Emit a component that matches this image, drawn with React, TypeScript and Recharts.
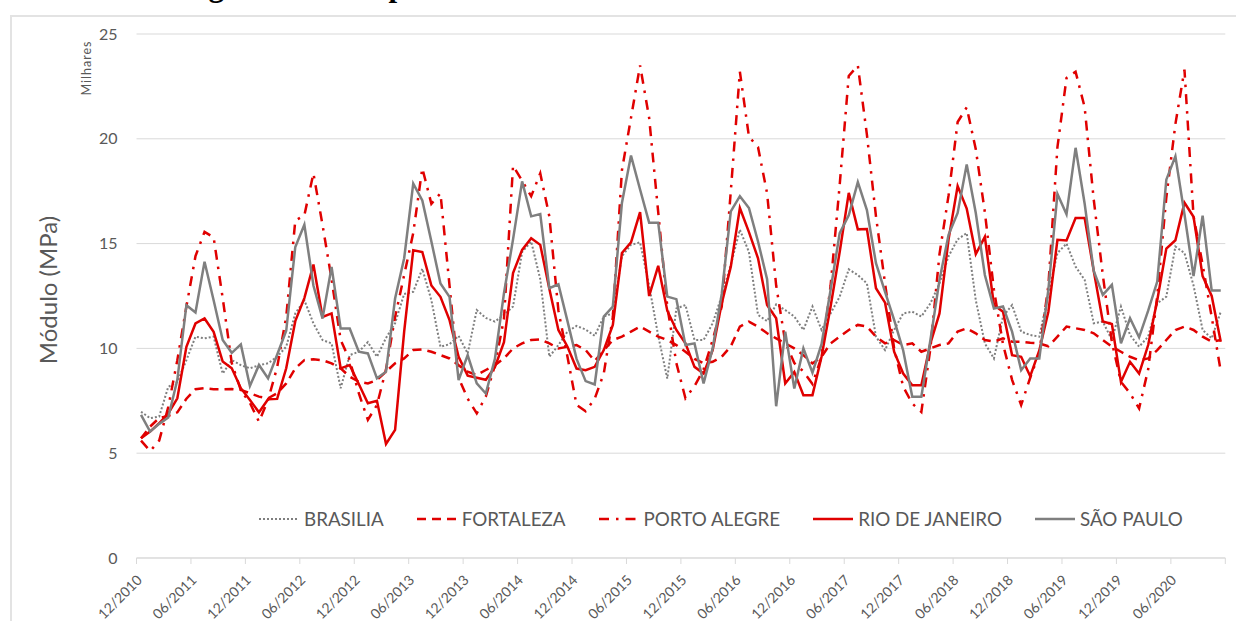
import React from 'react';
import { LineChart, Line, XAxis, YAxis, CartesianGrid, Legend, Label } from 'recharts';

// Monthly categories 12/2010 .. 11/2020
const CATEGORIES: string[] = (() => {
  const out: string[] = [];
  let m = 12;
  let y = 2010;
  for (let k = 0; k < 120; k++) {
    out.push(`${String(m).padStart(2, '0')}/${y}`);
    m++;
    if (m > 12) { m = 1; y++; }
  }
  return out;
})();

const TICK_LABELS: string[] = CATEGORIES.filter((_, k) => k % 6 === 0);
const TICK_POS: number[] = Array.from({ length: 21 }, (_, k) => k * 6 - 0.5);
const Y_TICKS = [0, 5, 10, 15, 20, 25];

const BRASILIA = [
  6.98, 6.67, 6.75, 8.17, 8.4, 9.44, 10.56, 10.48, 10.56, 8.8,
  9.44, 9.2, 9.05, 9.2, 9.29, 9.6, 10.08, 11.67, 12.3, 11.19,
  10.4, 10.24, 8.1, 9.68, 9.84, 10.3, 9.6, 10.5, 11.2, 12.6,
  12.7, 13.8, 12.3, 10.08, 10.2, 10.6, 9.76, 11.83, 11.45, 11.28,
  11.6, 12.0, 14.6, 15.1, 13.3, 9.6, 10.16, 10.8, 11.07, 10.9,
  10.6, 11.52, 11.67, 14.4, 14.94, 15.06, 13.0, 10.6, 8.56, 11.9,
  12.07, 10.4, 10.4, 11.2, 12.5, 13.99, 15.66, 14.6, 11.6, 11.3,
  12.1, 11.83, 11.52, 10.88, 12.0, 10.88, 11.67, 12.47, 13.77, 13.5,
  13.1, 10.56, 9.92, 10.88, 11.67, 11.75, 11.52, 12.15, 13.1, 14.4,
  15.2, 15.5, 12.3, 10.24, 9.52, 11.52, 12.07, 10.8, 10.64, 10.56,
  12.6, 14.55, 15.0, 13.9, 13.27, 11.2, 11.28, 10.4, 12.0, 10.64,
  10.08, 10.56, 12.15, 12.47, 14.86, 14.55, 13.0, 10.88, 10.48, 11.75,
];

const FORTALEZA = [
  5.71, 6.27, 6.68, 6.78, 6.95, 7.6, 8.05, 8.1, 8.05, 8.05,
  8.06, 8.02, 7.86, 7.7, 7.62, 7.86, 8.33, 9.05, 9.44, 9.48,
  9.44, 9.29, 9.05, 8.65, 8.41, 8.33, 8.49, 8.89, 9.29, 9.52,
  9.92, 9.95, 9.84, 9.68, 9.52, 9.2, 8.89, 8.73, 8.97, 9.2,
  9.52, 10.0, 10.24, 10.4, 10.43, 10.24, 10.0, 10.08, 10.16, 9.92,
  9.4, 9.9, 10.4, 10.56, 10.8, 11.04, 10.8, 10.56, 10.4, 10.16,
  9.84, 9.5, 9.3, 9.36, 9.6, 10.1, 11.04, 11.28, 11.04, 10.72,
  10.48, 10.24, 10.0, 9.68, 9.28, 9.6, 10.24, 10.56, 10.88, 11.12,
  11.04, 10.56, 10.24, 10.4, 10.16, 10.24, 9.84, 10.0, 10.16, 10.24,
  10.8, 10.96, 10.72, 10.4, 10.32, 10.48, 10.32, 10.32, 10.27, 10.24,
  10.1, 10.56, 11.04, 10.96, 10.88, 10.72, 10.4, 10.08, 9.84, 9.6,
  9.44, 9.52, 9.92, 10.4, 10.88, 11.04, 10.88, 10.56, 10.32, 10.4,
];

const PORTO_ALEGRE = [
  5.6, 5.1, 5.6, 7.2, 9.44, 12.0, 14.4, 15.56, 15.3, 12.4,
  9.3, 8.0, 7.4, 6.5, 7.54, 9.1, 11.5, 16.1, 16.35, 18.35,
  15.9, 13.3, 10.4, 9.44, 7.86, 6.59, 7.3, 9.0, 11.5, 13.5,
  15.5, 18.6, 16.9, 17.4, 13.0, 8.6, 7.6, 6.9, 7.7, 9.2,
  11.4, 18.72, 18.0, 17.26, 18.35, 16.3, 11.8, 9.6, 7.3, 7.0,
  7.6, 8.8, 11.5, 18.5, 21.0, 23.5, 21.0, 16.5, 12.0, 9.3,
  7.62, 8.2, 9.0, 10.4, 12.0, 17.5, 23.2, 20.1, 19.6, 17.4,
  13.0, 10.3, 9.3, 8.9, 8.3, 9.6, 13.0, 17.8, 23.0, 23.5,
  20.2, 16.3, 13.1, 10.0, 8.17, 7.37, 6.97, 10.0, 14.5, 17.3,
  20.8, 21.5, 19.5, 16.5, 12.8, 10.2, 8.5, 7.3, 8.6, 9.8,
  13.0, 19.6, 22.9, 23.2, 21.5, 17.1, 13.5, 10.3, 8.4, 7.86,
  7.14, 9.0, 12.5, 17.2, 20.7, 23.3, 16.3, 14.0, 11.5, 8.9,
];

const RIO_DE_JANEIRO = [
  5.71, 6.03, 6.43, 6.9, 7.62, 10.08, 11.19, 11.43, 10.79, 9.37,
  9.05, 8.1, 7.54, 6.95, 7.57, 7.59, 9.05, 11.3, 12.4, 14.0,
  11.5, 11.67, 9.05, 9.2, 8.3, 7.38, 7.5, 5.44, 6.11, 10.8,
  14.68, 14.6, 13.0, 12.46, 11.35, 9.6, 8.7, 8.6, 8.5, 9.1,
  10.3, 13.59, 14.7, 15.26, 14.94, 12.85, 10.88, 10.08, 9.04, 8.96,
  9.12, 9.92, 11.12, 14.55, 15.06, 16.5, 12.5, 13.94, 11.8, 10.88,
  10.24, 9.12, 8.8, 9.92, 12.15, 13.9, 16.7, 15.55, 14.3, 12.07,
  11.44, 8.33, 8.88, 7.77, 7.77, 9.6, 12.0, 14.6, 17.42, 15.68,
  15.7, 12.87, 12.18, 9.84, 8.8, 8.24, 8.24, 10.24, 11.67, 15.2,
  17.75, 16.67, 14.5, 15.32, 12.07, 11.75, 9.68, 9.6, 8.67, 9.9,
  11.75, 15.18, 15.15, 16.22, 16.22, 13.7, 11.28, 11.16, 8.4, 9.36,
  8.8, 10.16, 12.3, 14.76, 15.16, 16.95, 16.28, 13.45, 12.5, 10.32,
];

const SAO_PAULO = [
  6.83, 6.03, 6.4, 6.7, 8.5, 12.06, 11.71, 14.13, 12.3, 10.4,
  9.79, 10.19, 8.21, 9.21, 8.57, 9.7, 10.84, 14.84, 15.9, 13.0,
  11.43, 13.89, 10.95, 10.95, 9.84, 9.76, 8.57, 8.89, 12.38, 14.3,
  17.86, 17.06, 15.1, 13.1, 12.46, 8.49, 9.68, 8.33, 7.85, 9.5,
  12.63, 15.2, 17.97, 16.3, 16.41, 12.87, 13.06, 11.3, 9.5, 8.44,
  8.28, 11.52, 12.0, 16.94, 19.2, 17.58, 16.0, 16.0, 12.47, 12.35,
  10.16, 10.24, 8.33, 10.0, 12.6, 16.54, 17.26, 16.7, 15.1, 13.3,
  7.24, 10.8, 8.09, 10.0, 8.84, 10.2, 12.8, 15.5, 16.35, 17.93,
  16.6, 14.07, 12.7, 11.36, 9.9, 7.69, 7.69, 10.4, 13.27, 15.42,
  16.46, 18.77, 16.46, 13.5, 11.9, 12.0, 10.8, 8.96, 9.52, 9.52,
  12.8, 17.37, 16.4, 19.57, 16.9, 13.7, 12.55, 13.03, 10.24, 11.44,
  10.53, 11.8, 13.19, 18.05, 19.17, 16.4, 13.45, 16.33, 12.76, 12.76,
];

const RED = '#e00000';
const GRAY = '#7f7f7f';
const TEXT = '#595959';
const GRID = '#d9d9d9';
const FONT = 'Lato, "Open Sans", sans-serif';

const SERIES = [
  { key: 'brasilia', name: 'BRASILIA', color: GRAY, width: 2, dash: '2 2' },
  { key: 'fortaleza', name: 'FORTALEZA', color: RED, width: 2.5, dash: '9 6' },
  { key: 'portoAlegre', name: 'PORTO ALEGRE', color: RED, width: 2.5, dash: '10 7 2.5 7' },
  { key: 'rio', name: 'RIO DE JANEIRO', color: RED, width: 2.5, dash: undefined as string | undefined },
  { key: 'saoPaulo', name: 'SÃO PAULO', color: GRAY, width: 2.5, dash: undefined as string | undefined },
];

const DATA = CATEGORIES.map((month, i) => ({
  i,
  month,
  brasilia: BRASILIA[i],
  fortaleza: FORTALEZA[i],
  portoAlegre: PORTO_ALEGRE[i],
  rio: RIO_DE_JANEIRO[i],
  saoPaulo: SAO_PAULO[i],
}));

const XTick = (props: any) => {
  const { x, y, index } = props;
  const label = TICK_LABELS[index];
  if (!label) return <g />;
  const ax = x + 6.5;
  const ay = y + 15;
  return (
    <text
      x={ax}
      y={ay}
      textAnchor="end"
      transform={`rotate(-45 ${ax} ${ay})`}
      fill={TEXT}
      fontSize={14}
      fontFamily={FONT}
    >
      {label}
    </text>
  );
};

const YTitle = (props: any) => {
  const vb = props.viewBox || { x: 0, y: 34, width: 136.5, height: 524 };
  const cx = vb.x + 47;
  const cy = vb.y + vb.height / 2 - 6;
  return (
    <text
      x={cx}
      y={cy}
      transform={`rotate(-90 ${cx} ${cy})`}
      textAnchor="middle"
      dominantBaseline="central"
      fill={TEXT}
      fontSize={24}
      fontFamily={FONT}
    >
      Módulo (MPa)
    </text>
  );
};

const Thousands = (props: any) => {
  const vb = props.viewBox || { x: 0, y: 34, width: 136.5, height: 524 };
  const cx = vb.x + 86;
  const cy = vb.y + 34;
  return (
    <text
      x={cx}
      y={cy}
      transform={`rotate(-90 ${cx} ${cy})`}
      textAnchor="middle"
      dominantBaseline="central"
      fill={TEXT}
      fontSize={12.5}
      letterSpacing={1}
      fontFamily={FONT}
    >
      Milhares
    </text>
  );
};

const LegendContent = () => (
  <div style={{ display: 'flex', alignItems: 'center', fontFamily: FONT, fontSize: 18.8, color: TEXT, lineHeight: '24px', whiteSpace: 'nowrap' }}>
    {SERIES.map((s) => (
      <div key={s.key} style={{ display: 'flex', alignItems: 'center', marginRight: 33 }}>
        <svg width={40} height={8} style={{ display: 'block' }}>
          <line x1={0} y1={4} x2={40} y2={4} stroke={s.color} strokeWidth={s.width} strokeDasharray={s.dash} />
        </svg>
        <span style={{ marginLeft: 5 }}>{s.name}</span>
      </div>
    ))}
  </div>
);

export default function App() {
  return (
    <div style={{ position: 'absolute', left: 0, top: 0, width: 1236, height: 621, overflow: 'hidden', background: '#fff' }}>
      <div
        style={{
          position: 'absolute',
          left: 181,
          top: -30,
          fontFamily: '"Liberation Serif", serif',
          fontWeight: 'bold',
          fontSize: 31,
          lineHeight: '31px',
          whiteSpace: 'nowrap',
          color: '#000',
        }}
      >
        Figura 5 – Comportamento mensal do módulo
      </div>
      <div style={{ position: 'absolute', left: 10, top: 15, width: 1300, height: 700, border: '2px solid #e3e3e3', boxSizing: 'border-box' }} />
      <div style={{ position: 'absolute', left: 0, top: 0 }}>
        <LineChart width={1236} height={621} data={DATA} margin={{ top: 34, right: 10.7, bottom: 0, left: 0 }}>
          <CartesianGrid vertical={false} stroke={GRID} strokeWidth={1} />
          <XAxis
            dataKey="i"
            type="number"
            domain={[-0.5, 119.5]}
            ticks={TICK_POS}
            interval={0}
            allowDataOverflow
            height={63}
            tickSize={6}
            tickLine={{ stroke: GRID }}
            axisLine={{ stroke: GRID }}
            tick={<XTick />}
          />
          <YAxis
            type="number"
            domain={[0, 25]}
            ticks={Y_TICKS}
            interval={0}
            width={136.5}
            axisLine={false}
            tickLine={false}
            tickSize={6}
            tickMargin={13}
            tick={{ fill: TEXT, fontSize: 16, fontFamily: FONT }}
          >
            <Label content={<YTitle />} />
            <Label content={<Thousands />} />
          </YAxis>
          {SERIES.map((s) => (
            <Line
              key={s.key}
              type="linear"
              dataKey={s.key}
              name={s.name}
              stroke={s.color}
              strokeWidth={s.width}
              strokeDasharray={s.dash}
              dot={false}
              activeDot={false}
              isAnimationActive={false}
            />
          ))}
          <Legend
            layout="horizontal"
            verticalAlign="middle"
            align="center"
            content={<LegendContent />}
            wrapperStyle={{ left: 259, top: 507, width: 'auto', height: 24 }}
          />
        </LineChart>
      </div>
    </div>
  );
}
